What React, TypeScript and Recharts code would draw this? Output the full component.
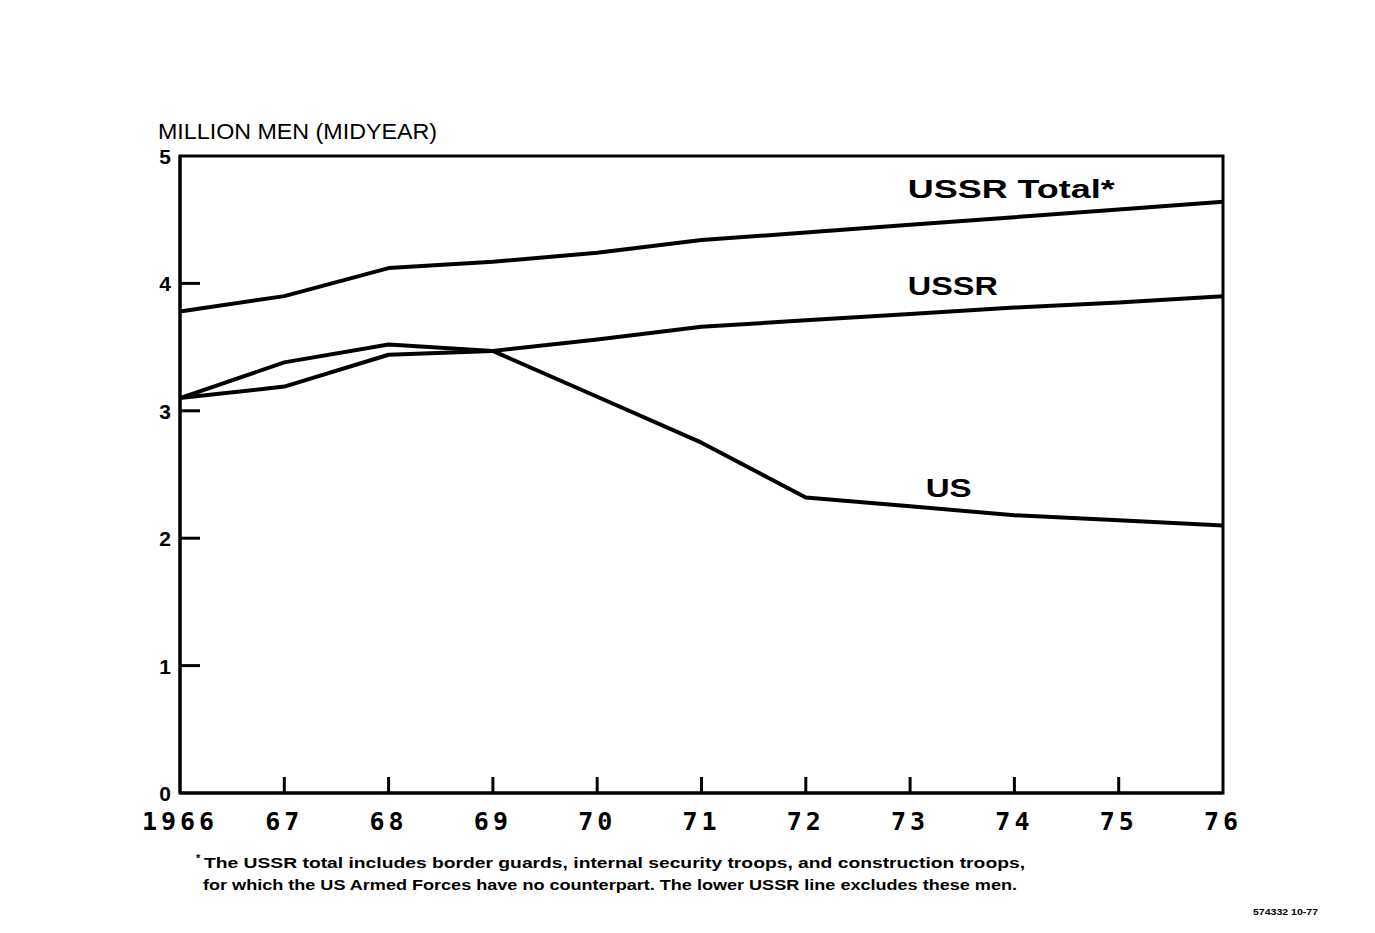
import React from 'react'
import { LineChart, Line, XAxis, YAxis, ReferenceArea, ReferenceDot } from 'recharts'

const years = [1966, 1967, 1968, 1969, 1970, 1971, 1972, 1973, 1974, 1975, 1976]
const ussrTotal = [3.78, 3.9, 4.12, 4.17, 4.24, 4.34, 4.4, 4.46, 4.52, 4.58, 4.64]
const ussr = [3.1, 3.19, 3.44, 3.47, 3.56, 3.66, 3.71, 3.76, 3.81, 3.85, 3.9]
const us = [3.1, 3.38, 3.52, 3.47, 3.11, 2.75, 2.32, 2.25, 2.18, 2.14, 2.1]
const yTicks = [0, 1, 2, 3, 4, 5]

const seriesLabels = [
  { text: 'USSR Total*', x: 1973.97, y: 4.75, width: 207 },
  { text: 'USSR', x: 1973.41, y: 3.99, width: 90 },
  { text: 'US', x: 1973.37, y: 2.4, width: 46 },
]

const footnote1 = 'The USSR total includes border guards, internal security troops, and construction troops,'
const footnote2 = 'for which the US Armed Forces have no counterpart. The lower USSR line excludes these men.'

const data = years.map((year, i) => ({
  year,
  ussrTotal: ussrTotal[i],
  ussr: ussr[i],
  us: us[i],
}))

function XTick(props: any) {
  const { x, y, payload } = props
  const v = payload.value as number
  const label = v === 1966 ? '1966' : String(v).slice(2)
  const inner = v !== 1966 && v !== 1976
  return (
    <g>
      {inner && <line x1={x} x2={x} y1={y} y2={y - 16} stroke="#000" strokeWidth={3} />}
      <text
        x={x}
        y={y + 37}
        textAnchor="middle"
        fontFamily="'DejaVu Sans Mono', monospace"
        fontWeight="bold"
        fontSize={25}
        letterSpacing={4}
        fill="#000"
      >
        {label}
      </text>
    </g>
  )
}

function YTick(props: any) {
  const { x, y, payload } = props
  const v = payload.value as number
  const inner = v > 0 && v < 5
  return (
    <g>
      {inner && <line x1={x} x2={x + 20} y1={y} y2={y} stroke="#000" strokeWidth={3} />}
      <text
        x={x - 9}
        y={y + 8}
        textAnchor="end"
        fontFamily="'Liberation Sans', Arial, sans-serif"
        fontWeight="bold"
        fontSize={21}
        fill="#000"
      >
        {v}
      </text>
    </g>
  )
}

function SeriesLabel(props: any) {
  const { viewBox, text, width } = props
  const cx = viewBox.x + (viewBox.width || 0) / 2
  const cy = viewBox.y + (viewBox.height || 0) / 2
  return (
    <text
      x={cx - width / 2}
      y={cy + 10}
      textLength={width}
      lengthAdjust="spacingAndGlyphs"
      fontFamily="'Liberation Sans', Arial, sans-serif"
      fontWeight="bold"
      fontSize={26}
      fill="#000"
    >
      {text}
    </text>
  )
}

export default function App() {
  return (
    <div style={{ position: 'absolute', left: 0, top: 0, width: 1375, height: 933, background: '#fff' }}>
      <LineChart width={1375} height={933} data={data} margin={{ top: 156, right: 152, left: 0, bottom: 60 }}>
        <XAxis
          dataKey="year"
          type="number"
          domain={[1966, 1976]}
          ticks={years}
          interval={0}
          tick={<XTick />}
          tickLine={false}
          tickSize={0}
          tickMargin={0}
          axisLine={{ stroke: '#000', strokeWidth: 3 }}
          height={80}
        />
        <YAxis
          type="number"
          domain={[0, 5]}
          ticks={yTicks}
          interval={0}
          tick={<YTick />}
          tickLine={false}
          tickSize={0}
          tickMargin={0}
          axisLine={{ stroke: '#000', strokeWidth: 3 }}
          width={180}
        />
        <ReferenceArea x1={1966} x2={1976} y1={0} y2={5} fill="none" stroke="#000" strokeWidth={3} />
        <Line dataKey="ussrTotal" stroke="#000" strokeWidth={4} dot={false} isAnimationActive={false} strokeLinejoin="round" />
        <Line dataKey="ussr" stroke="#000" strokeWidth={4} dot={false} isAnimationActive={false} strokeLinejoin="round" />
        <Line dataKey="us" stroke="#000" strokeWidth={4} dot={false} isAnimationActive={false} strokeLinejoin="round" />
        {seriesLabels.map((l) => (
          <ReferenceDot
            key={l.text}
            x={l.x}
            y={l.y}
            r={0}
            fill="none"
            stroke="none"
            label={<SeriesLabel text={l.text} width={l.width} />}
          />
        ))}
      </LineChart>
      <svg
        width={1375}
        height={933}
        style={{ position: 'absolute', left: 0, top: 0, pointerEvents: 'none' }}
      >
        <text
          x={158}
          y={139}
          textLength={279}
          lengthAdjust="spacingAndGlyphs"
          fontFamily="'Liberation Sans', Arial, sans-serif"
          fontSize={22}
          fill="#000"
        >
          MILLION MEN (MIDYEAR)
        </text>
        <text x={196} y={862} fontFamily="'Liberation Sans', Arial, sans-serif" fontWeight="bold" fontSize={11} fill="#000">
          *
        </text>
        <text
          x={204}
          y={868}
          textLength={821}
          lengthAdjust="spacingAndGlyphs"
          fontFamily="'Liberation Sans Narrow', 'Liberation Sans', Arial, sans-serif"
          fontWeight="bold"
          fontSize={15}
          fill="#000"
        >
          {footnote1}
        </text>
        <text
          x={203}
          y={890}
          textLength={814}
          lengthAdjust="spacingAndGlyphs"
          fontFamily="'Liberation Sans Narrow', 'Liberation Sans', Arial, sans-serif"
          fontWeight="bold"
          fontSize={15}
          fill="#000"
        >
          {footnote2}
        </text>
        <text
          x={1253}
          y={915}
          textLength={65}
          lengthAdjust="spacingAndGlyphs"
          fontFamily="'Liberation Sans', Arial, sans-serif"
          fontWeight="bold"
          fontSize={9}
          fill="#000"
        >
          574332 10-77
        </text>
      </svg>
    </div>
  )
}
